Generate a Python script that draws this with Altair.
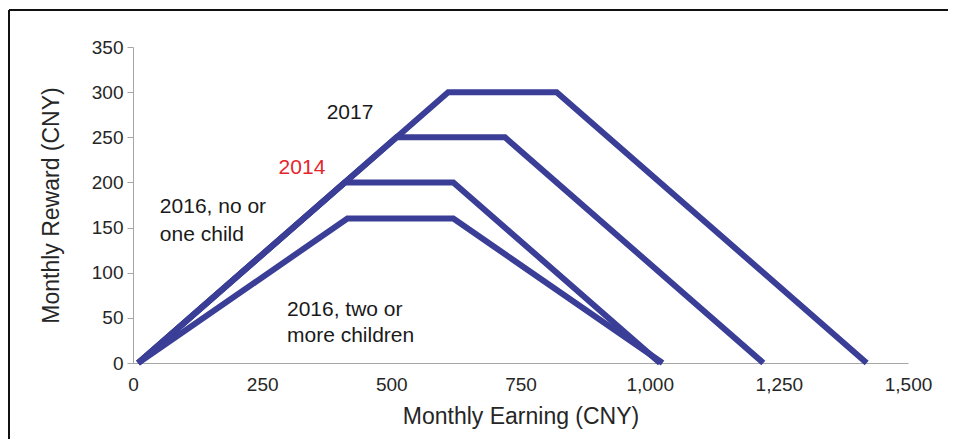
import altair as alt
import pandas as pd

# Series vertices (Monthly Earning, Monthly Reward)
s2017_x = [10, 610, 820, 1420]
s2017_y = [0, 300, 300, 0]
s2014_x = [10, 510, 720, 1220]
s2014_y = [0, 250, 250, 0]
s2016a_x = [10, 410, 620, 1020]
s2016a_y = [0, 200, 200, 0]
s2016b_x = [10, 415, 620, 1025]
s2016b_y = [0, 160, 160, 0]

x_ticks = [0, 250, 500, 750, 1000, 1250, 1500]
y_ticks = [0, 50, 100, 150, 200, 250, 300, 350]

# Annotations
ann_text = ["2017", "2014", "2016, no or", "one child", "2016, two or", "more children"]
ann_x = [420, 327, 52, 52, 298, 298]
ann_y = [277, 216, 173, 142, 59, 30]
ann_align = ["center", "center", "left", "left", "left", "left"]
ann_color = ["#1a1a1a", "#e3262b", "#1a1a1a", "#1a1a1a", "#1a1a1a", "#1a1a1a"]

rows = []
for name, xs, ys in [("2017", s2017_x, s2017_y), ("2014", s2014_x, s2014_y),
                     ("2016a", s2016a_x, s2016a_y), ("2016b", s2016b_x, s2016b_y)]:
    for i, (a, b) in enumerate(zip(xs, ys)):
        rows.append({"series": name, "x": a, "y": b, "o": i})
df = pd.DataFrame(rows)

ann = pd.DataFrame({"t": ann_text, "x": ann_x, "y": ann_y, "align": ann_align, "c": ann_color})

xscale = alt.Scale(domain=[0, 1500], nice=False)
yscale = alt.Scale(domain=[0, 350], nice=False)

FONT = "Liberation Sans"
TXT = "#262626"

lines = alt.Chart(df).mark_line(strokeWidth=6, color="#3a3e96", strokeJoin="miter").encode(
    x=alt.X("x:Q", scale=xscale,
            axis=alt.Axis(title="Monthly Earning (CNY)", values=x_ticks, format=",.0f",
                          ticks=False, labelPadding=12, titlePadding=11, labelFlush=False,
                          domainColor="#a6a6a6", labelFontSize=19, titleFontSize=23,
                          labelColor=TXT, titleColor=TXT,
                          labelFont=FONT, titleFont=FONT, titleFontWeight="normal", grid=False)),
    y=alt.Y("y:Q", scale=yscale,
            axis=alt.Axis(title="Monthly Reward (CNY)", values=y_ticks, tickSize=6,
                          tickColor="#a6a6a6", domainColor="#a6a6a6", labelPadding=4,
                          titlePadding=28, labelFontSize=19, titleFontSize=23, labelFlush=False,
                          labelColor=TXT, titleColor=TXT,
                          labelFont=FONT, titleFont=FONT, titleFontWeight="normal", grid=False)),
    detail="series:N",
    order="o:Q",
)

texts_c = alt.Chart(ann[ann["align"] == "center"]).mark_text(
    fontSize=21, font=FONT, align="center", baseline="middle").encode(
    x=alt.X("x:Q", scale=xscale), y=alt.Y("y:Q", scale=yscale),
    text="t:N", color=alt.Color("c:N", scale=None))
texts_l = alt.Chart(ann[ann["align"] == "left"]).mark_text(
    fontSize=21, font=FONT, align="left", baseline="middle").encode(
    x=alt.X("x:Q", scale=xscale), y=alt.Y("y:Q", scale=yscale),
    text="t:N", color=alt.Color("c:N", scale=None))

frame_top = alt.Chart(pd.DataFrame({"a": [0]})).mark_rule(color="#111111", strokeWidth=2).encode(
    x=alt.value(-124), x2=alt.value(820), y=alt.value(-37))
frame_left = alt.Chart(pd.DataFrame({"a": [0]})).mark_rule(color="#111111", strokeWidth=2).encode(
    x=alt.value(-124), y=alt.value(-37), y2=alt.value(400))

chart = alt.layer(lines, texts_c, texts_l, frame_top, frame_left).properties(
    width=775, height=316,
    background="white",
    autosize=alt.AutoSizeParams(type="none"),
    padding={"left": 125, "top": 39, "right": 40, "bottom": 76},
).configure_view(stroke=None)

chart.save("out.html", embed_options={"renderer": "svg", "actions": False})
